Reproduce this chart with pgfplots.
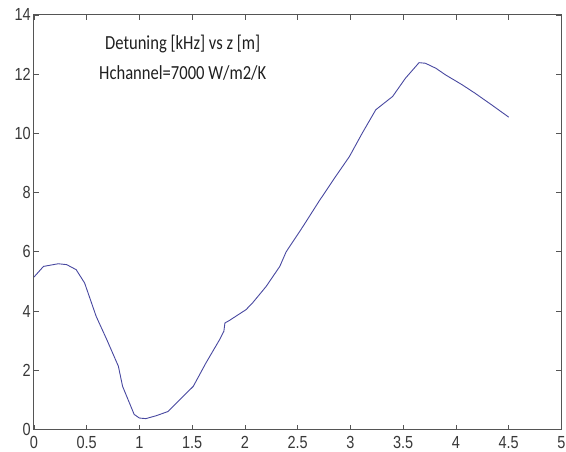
\documentclass[border=0pt]{standalone}
\usepackage{pgfplots}
\pgfplotsset{compat=1.18}
\usepackage{fontspec}
\setmainfont{Liberation Sans}
\newfontfamily\tickfont[FakeStretch=0.83]{Liberation Sans}
\newfontfamily\titlefont[FakeStretch=0.83]{Carlito}
\definecolor{axgray}{RGB}{85,85,85}
\definecolor{lineblue}{RGB}{72,72,160}
\begin{document}
\begin{tikzpicture}
\begin{axis}[
  scale only axis,
  width=528pt, height=415pt,
  xmin=0, xmax=5, ymin=0, ymax=14,
  xtick={0,0.5,...,5}, ytick={0,2,...,14},
  xticklabels={0,0.5,1,1.5,2,2.5,3,3.5,4,4.5,5},
  tick align=inside,
  major tick length=5pt,
  axis line style={axgray, line width=1pt},
  every tick/.style={axgray, line width=0.9pt},
  tick label style={font=\tickfont\fontsize{17.5}{19}\selectfont, text=black!78},
  /pgf/number format/assume math mode=true,
  xticklabel style={yshift=-6pt, inner sep=0.5pt},
  yticklabel style={xshift=-3pt, inner sep=0pt},
]
\addplot[lineblue, line width=0.9pt] coordinates {
(0,5.15) (0.09,5.51) (0.23,5.6) (0.31,5.57) (0.40,5.40) (0.48,4.95)
(0.59,3.82) (0.69,3.04) (0.80,2.14) (0.84,1.46) (0.95,0.51) (1.0,0.39)
(1.06,0.37) (1.16,0.47) (1.27,0.61) (1.38,1.0) (1.51,1.46) (1.63,2.25)
(1.76,3.04) (1.80,3.32) (1.81,3.6) (1.85,3.68) (2.01,4.05) (2.07,4.27)
(2.20,4.83) (2.33,5.51) (2.39,6.0) (2.55,6.86) (2.70,7.70) (2.86,8.55)
(2.99,9.22) (3.11,10.0) (3.24,10.8) (3.40,11.25) (3.52,11.86) (3.65,12.39)
(3.71,12.37) (3.81,12.2) (3.90,11.98) (4.06,11.64) (4.18,11.36) (4.34,10.96)
(4.50,10.55)
};
\node[align=center, font=\titlefont\fontsize{20}{30}\selectfont, text=black!88] at (axis cs:1.41,12.57) {Detuning [kHz] vs z [m]\\Hchannel=7000 W/m2/K};
\end{axis}
\path (current axis.south west) ++(-34pt,-22pt) (current axis.north east) ++(4pt,15pt);
\end{tikzpicture}
\end{document}
